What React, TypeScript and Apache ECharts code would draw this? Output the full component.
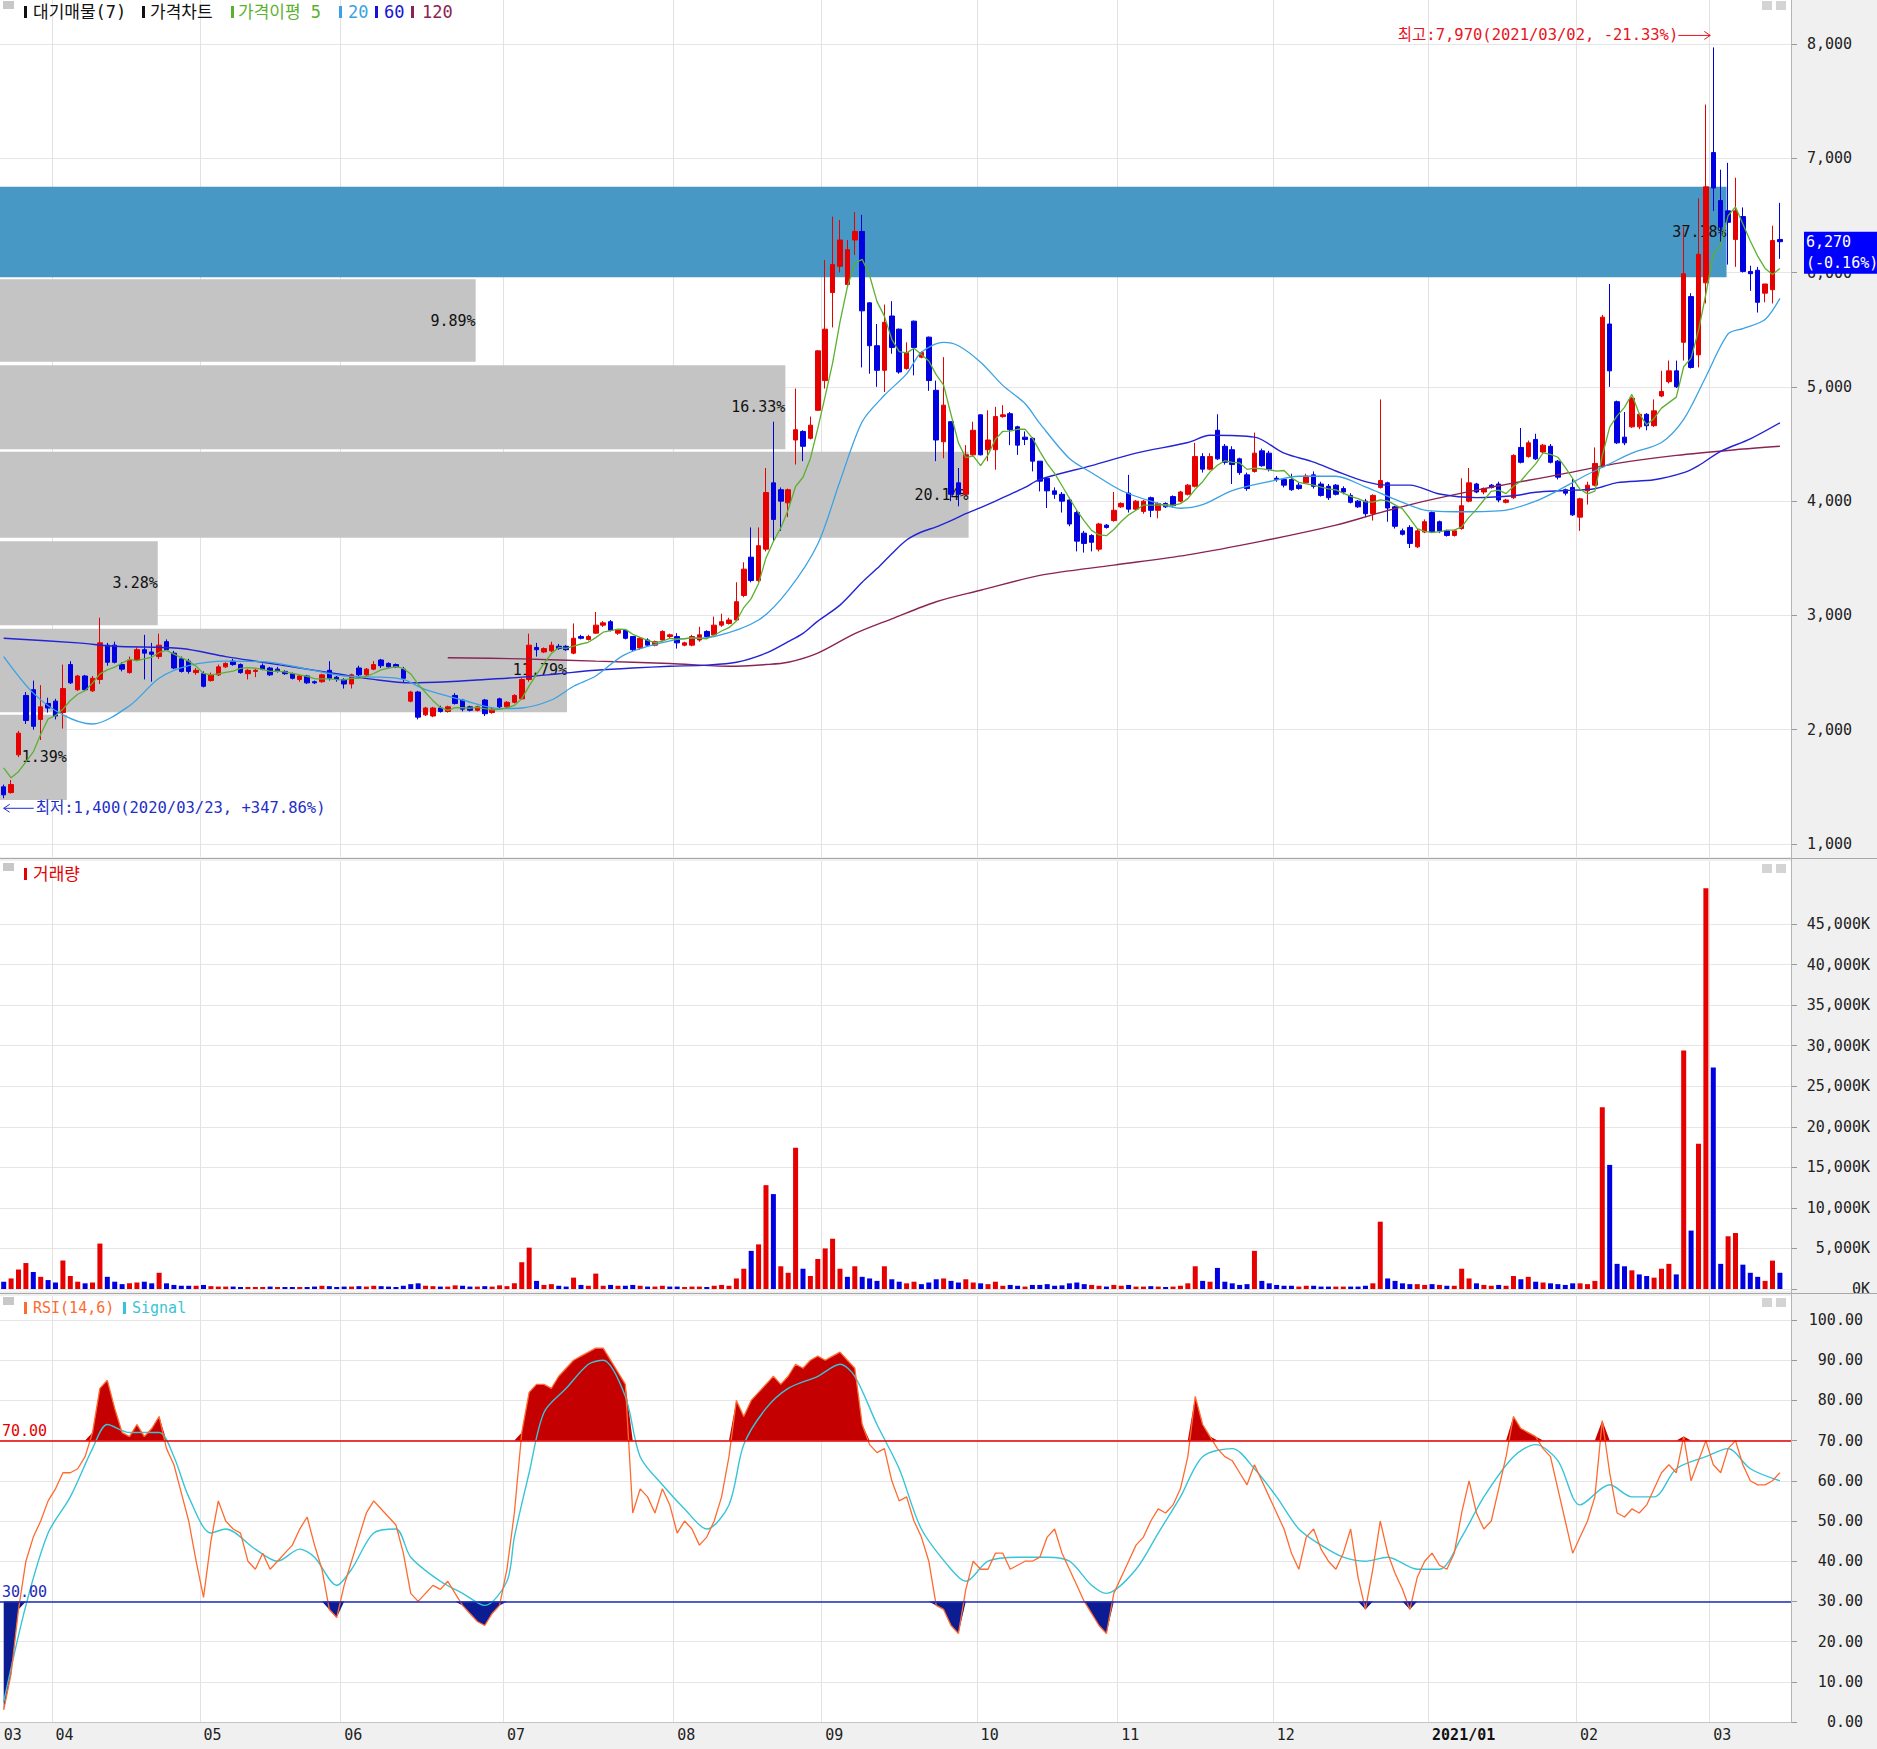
import React, { useEffect, useRef } from "react";
import * as echarts from "echarts";

// ---------------- data ----------------
const monthLabels = ["03", "04", "05", "06", "07", "08", "09", "10", "11", "12", "2021/01", "02", "03"];
const monthDays = [7, 20, 19, 22, 23, 20, 21, 19, 21, 21, 20, 18, 10];

const preCloses = [1955, 1700, 1650, 1595];

const opens = [
  1500, 1450, 1780, 2300, 2350, 2090, 2230,
  2250, 2150, 2570, 2350, 2470, 2340, 2440, 2740, 2740, 2570, 2500, 2610, 2700, 2680, 2640, 2770, 2670, 2620, 2600, 2500,
  2490, 2430, 2480, 2550, 2600, 2570, 2490, 2510, 2560, 2540, 2530, 2510, 2490, 2440, 2470, 2420, 2420, 2520, 2460,
  2440, 2400, 2540, 2480, 2530, 2610, 2580, 2570, 2530, 2250, 2330, 2130, 2120, 2190, 2160, 2300, 2260, 2200, 2170, 2260, 2150, 2270,
  2200, 2240, 2270, 2440, 2720, 2680, 2690, 2730, 2730, 2670, 2815, 2790, 2845, 2915, 2945, 2845, 2870, 2815, 2715, 2785, 2740, 2785, 2815,
  2815, 2740, 2740, 2785, 2860, 2830, 2915, 2930, 2960, 3175, 3510, 3305, 3580, 4160, 4100, 3985, 4535, 4610, 4550, 4795,
  5055, 5825, 6055, 5895, 6285, 6360, 5735, 5360, 5145, 5620, 5505, 5160, 5575, 5260, 5435, 4970, 4520, 4695, 4160, 4060, 4405,
  4755, 4450, 4450, 4740, 4765, 4650, 4560, 4550, 4350, 4200, 4090, 4060, 4010, 3900, 3720, 3700, 3580, 3790, 3830,
  3950, 4070, 3930, 3910, 4030, 3920, 3980, 4040, 4000, 4060, 4130, 4390, 4280, 4620, 4480, 4450, 4370, 4230, 4260, 4440, 4420,
  4200, 4190, 4190, 4140, 4160, 4230, 4150, 4130, 4140, 4110, 4050, 4000, 4000, 3890, 4120, 4160, 3950, 3740, 3770, 3600, 3730,
  3900, 3820, 3740, 3700, 3760, 4000, 4150, 4080, 4140, 4150, 3990, 4030, 4470, 4390, 4540, 4430, 4480, 4350, 4100, 4120,
  3860, 4090, 4140, 4300, 5550, 4870, 4560, 4650, 4650, 4760, 4660, 4920, 5045, 5140, 5390, 5790, 5280, 5910,
  7050, 6630, 6540, 6290, 6490, 6010, 6020, 5820, 5850, 6290,
];
const highs = [
  1520, 1560, 1990, 2330, 2430, 2390, 2280,
  2270, 2570, 2600, 2480, 2480, 2470, 2980, 2760, 2770, 2590, 2640, 2720, 2830, 2760, 2840, 2790, 2690, 2640, 2620, 2540,
  2510, 2500, 2570, 2590, 2620, 2580, 2530, 2530, 2580, 2550, 2550, 2520, 2500, 2480, 2480, 2430, 2490, 2600, 2470,
  2450, 2490, 2560, 2540, 2600, 2620, 2590, 2580, 2550, 2340, 2340, 2200, 2200, 2210, 2210, 2320, 2270, 2210, 2210, 2270, 2190, 2280,
  2250, 2310, 2450, 2840, 2760, 2720, 2770, 2750, 2740, 2930, 2830, 2830, 3030, 2950, 2960, 2880, 2880, 2820, 2810, 2800, 2780, 2870, 2840,
  2845, 2770, 2830, 2900, 2870, 2990, 3015, 2980, 3290, 3465, 3770, 3770, 4290, 4695, 4120, 4110, 4985, 4620, 4740, 5320,
  6110, 6490, 6460, 6285, 6530, 6505, 5740, 5550, 5720, 5750, 5510, 5390, 5580, 5310, 5440, 5055, 5260, 4700, 4290, 4490, 4695,
  4760, 4795, 4825, 4840, 4780, 4660, 4610, 4560, 4350, 4210, 4120, 4080, 4030, 3920, 3740, 3710, 3810, 3800, 4080,
  3990, 4230, 4010, 4010, 4040, 3990, 3990, 4050, 4090, 4150, 4510, 4420, 4420, 4760, 4500, 4480, 4380, 4250, 4600, 4460, 4440,
  4220, 4200, 4240, 4160, 4240, 4260, 4170, 4150, 4150, 4130, 4070, 4010, 4020, 4060, 4890, 4170, 3960, 3760, 3790, 3760, 3840,
  3910, 3830, 3750, 3750, 4200, 4290, 4160, 4120, 4150, 4170, 4020, 4410, 4640, 4530, 4590, 4500, 4500, 4360, 4110, 4200,
  4030, 4170, 4470, 5630, 5900, 4880, 4780, 4910, 4770, 4770, 4890, 5140, 5230, 5230, 6400, 5820, 6650, 7470,
  7970, 6900, 6960, 6830, 6570, 6060, 6050, 5900, 6410, 6610,
];
const lows = [
  1400, 1440, 1760, 2050, 2000, 1910, 2150,
  2090, 2010, 2400, 2340, 2340, 2330, 2400, 2560, 2580, 2510, 2490, 2600, 2440, 2420, 2620, 2690, 2530, 2500, 2490, 2480,
  2370, 2420, 2470, 2540, 2560, 2490, 2440, 2460, 2520, 2470, 2500, 2480, 2440, 2420, 2400, 2400, 2410, 2430, 2420,
  2360, 2360, 2470, 2470, 2520, 2540, 2540, 2540, 2410, 2240, 2090, 2120, 2110, 2150, 2150, 2220, 2160, 2160, 2160, 2120, 2140, 2190,
  2190, 2230, 2260, 2420, 2640, 2670, 2680, 2700, 2690, 2660, 2790, 2780, 2840, 2900, 2860, 2830, 2790, 2690, 2700, 2730, 2730, 2780, 2800,
  2710, 2730, 2730, 2770, 2800, 2820, 2900, 2920, 2950, 3160, 3290, 3290, 3560, 3650, 3740, 3860, 4320, 4350, 4540, 4790,
  4985, 5520, 6000, 5880, 6155, 5170, 5115, 5000, 4955, 5290, 5115, 5150, 5100, 5250, 4965, 4350, 4375, 4000, 3955, 4050, 4390,
  4400, 4350, 4275, 4730, 4490, 4405, 4490, 4260, 4085, 3940, 4020, 3900, 3780, 3560, 3550, 3560, 3560, 3760, 3820,
  3940, 3900, 3920, 3890, 3860, 3850, 3940, 3950, 3990, 4050, 4120, 4250, 4270, 4360, 4320, 4150, 4230, 4090, 4250, 4300, 4260,
  4170, 4120, 4090, 4100, 4150, 4110, 4040, 4010, 4050, 4060, 3980, 3940, 3860, 3830, 4110, 3820, 3760, 3700, 3590, 3590, 3720,
  3720, 3720, 3690, 3690, 3750, 3990, 4070, 4060, 4110, 3990, 3980, 4020, 4330, 4380, 4360, 4420, 4330, 4190, 4050, 3870,
  3740, 3970, 4130, 4290, 5000, 4500, 4490, 4640, 4630, 4620, 4650, 4910, 5030, 4990, 5230, 5160, 5170, 5730,
  6540, 6270, 6070, 6050, 6000, 5840, 5650, 5740, 5730, 6120,
];
const closes = [
  1430, 1520, 1970, 2080, 2030, 2200, 2190,
  2120, 2360, 2410, 2470, 2350, 2450, 2760, 2590, 2590, 2530, 2610, 2700, 2670, 2660, 2740, 2700, 2540, 2510, 2510, 2520,
  2380, 2480, 2550, 2580, 2570, 2500, 2520, 2520, 2530, 2480, 2510, 2490, 2450, 2470, 2410, 2410, 2480, 2450, 2440,
  2400, 2480, 2480, 2530, 2570, 2560, 2550, 2550, 2450, 2330, 2110, 2190, 2190, 2160, 2200, 2230, 2180, 2170, 2200, 2140, 2180, 2200,
  2240, 2300, 2440, 2740, 2700, 2710, 2740, 2710, 2700, 2800, 2800, 2815, 2915, 2935, 2870, 2870, 2800, 2700, 2800, 2740, 2770, 2860, 2830,
  2760, 2760, 2815, 2830, 2815, 2915, 2945, 2960, 3120, 3405, 3305, 3610, 4075, 3840, 4000, 4100, 4625, 4480, 4665, 5315,
  5505, 6070, 6285, 6200, 6360, 5665, 5360, 5145, 5565, 5345, 5130, 5300, 5345, 5300, 5055, 4535, 4840, 4060, 4060, 4405, 4620,
  4405, 4535, 4740, 4755, 4625, 4490, 4540, 4350, 4175, 4090, 4060, 4000, 3800, 3650, 3630, 3640, 3800, 3770, 3920,
  3980, 3930, 4000, 4000, 3920, 3980, 3950, 3960, 4080, 4140, 4390, 4280, 4390, 4370, 4340, 4320, 4250, 4110, 4420, 4310, 4280,
  4190, 4140, 4100, 4110, 4220, 4130, 4050, 4030, 4060, 4080, 3990, 3950, 3890, 4050, 4180, 3940, 3780, 3710, 3630, 3740, 3820,
  3730, 3740, 3700, 3740, 3960, 4160, 4080, 4110, 4120, 4010, 4010, 4400, 4340, 4510, 4370, 4490, 4340, 4210, 4070, 3880,
  4020, 4140, 4330, 5610, 5140, 4510, 4510, 4900, 4760, 4660, 4790, 4960, 5140, 5000, 5990, 5170, 6160, 6750,
  6740, 6400, 6440, 6540, 6010, 5990, 5740, 5900, 6280, 6270,
];

// volume, thousands of shares
const volumesK = [
  900, 1300, 2400, 3200, 2100, 1500, 1100,
  800, 3500, 1600, 900, 700, 800, 5600, 1500, 900, 600, 700, 800, 900, 700, 2000, 700, 500, 400, 400, 400,
  500, 350, 300, 300, 300, 250, 250, 250, 250, 300, 250, 250, 250, 250, 250, 300, 400, 350, 250,
  300, 300, 350, 300, 400, 350, 300, 250, 400, 600, 700, 400, 350, 300, 300, 450, 400, 300, 300, 350, 300, 450,
  350, 700, 3300, 5100, 1000, 500, 600, 400, 300, 1400, 500, 400, 1900, 400, 500, 400, 400, 500, 400, 300, 300, 400, 300,
  300, 250, 300, 300, 250, 400, 500, 400, 1300, 2500, 4700, 5500, 12800, 11700, 2800, 2000, 17400, 2500, 1600, 3700,
  5000, 6200, 2500, 1500, 2800, 1500, 1300, 1000, 2800, 1200, 900, 700, 900, 600, 800, 1200, 1300, 1000, 800, 1200, 800,
  700, 600, 900, 400, 500, 400, 300, 500, 500, 600, 400, 450, 700, 800, 600, 500, 400, 300, 500,
  400, 500, 300, 300, 350, 300, 250, 300, 400, 700, 2800, 1000, 900, 2600, 900, 700, 500, 600, 4700, 1000, 700,
  500, 400, 400, 300, 400, 400, 300, 300, 300, 300, 300, 300, 400, 700, 8300, 1300, 1000, 700, 600, 600, 500,
  600, 500, 400, 400, 2500, 1300, 700, 500, 400, 500, 400, 1600, 1200, 1500, 900, 800, 700, 600, 500, 700,
  700, 600, 1000, 22400, 15300, 3100, 2800, 2300, 1800, 1600, 1400, 2500, 3100, 1800, 29400, 7200, 17900, 49400,
  27300, 3100, 6500, 6900, 3000, 2000, 1500, 1000, 3500, 2000,
];

const rsiValues = [
  3, 12, 28, 40, 46, 50, 55, 58, 62, 62,
  63, 66, 72, 83, 85, 78, 72, 71, 74, 71,
  73, 76, 68, 64, 57, 50, 40, 31, 45, 55,
  50, 48, 47, 40, 38, 42, 38, 40, 42, 44,
  48, 51, 44, 38, 28, 26, 34, 40, 46, 52,
  55, 53, 51, 49, 42, 32, 30, 32, 34, 33,
  35, 32, 29, 27, 25, 24, 27, 29, 38, 52,
  72, 82, 84, 84, 83, 86, 88, 90, 91, 92,
  93, 93, 90, 87, 84, 52, 58, 56, 52, 58,
  54, 47, 50, 48, 44, 46, 50, 56, 66, 80,
  76, 80, 82, 84, 86, 84, 86, 89, 88, 90,
  91, 90, 91, 92, 90, 88, 74, 69, 67, 68,
  60, 55, 56, 50, 46, 40, 29, 28, 24, 22,
  33, 40, 38, 38, 42, 42, 38, 39, 40, 40,
  41, 46, 48, 42, 38, 34, 30, 27, 24, 22,
  32, 36, 40, 44, 46, 50, 53, 52, 54, 58,
  66, 81, 74, 71, 68, 66, 65, 62, 59, 64,
  60, 56, 52, 48, 42, 38, 46, 48, 43, 40,
  38, 42, 48, 36, 28, 38, 50, 42, 37, 33,
  28, 36, 40, 42, 39, 38, 42, 52, 60, 52,
  48, 50, 58, 66, 76, 73, 72, 71, 68, 66,
  58, 50, 42, 46, 50, 56, 75, 62, 52, 51,
  53, 52, 54, 58, 62, 64, 62, 71, 60, 65,
  70, 64, 62, 68, 70, 64, 60, 59, 59, 60, 62,
];

// [trading-day index, value] readings
const signalPoints = [
  [0, 5], [3, 29], [6, 47], [9, 56], [12, 68], [14, 74], [17, 72], [21, 72], [23, 66], [25, 56], [28, 47], [30, 48],
  [34, 43], [37, 40], [40, 43], [42, 41], [45, 34], [47, 38], [50, 47], [53, 48], [55, 41], [59, 35], [62, 32], [65, 29],
  [68, 35], [69, 46], [71, 62], [73, 77], [76, 83], [79, 89], [81, 90], [84, 81], [86, 66], [89, 59], [92, 53], [95, 48],
  [98, 54], [100, 69], [103, 78], [106, 83], [110, 86], [113, 89], [115, 86], [118, 74], [121, 63], [124, 48], [128, 38],
  [130, 35], [133, 40], [137, 41], [141, 41], [144, 40], [147, 34], [149, 32], [153, 38], [156, 47], [159, 56], [162, 66],
  [166, 68], [169, 63], [172, 56], [175, 48], [178, 44], [181, 41], [184, 40], [187, 41], [191, 38], [194, 38], [197, 46],
  [200, 56], [204, 66], [207, 69], [210, 65], [213, 54], [217, 59], [220, 56], [223, 56], [226, 63], [230, 66], [233, 68],
  [236, 63], [240, 60],
];
const ma20Points = [
  [0, 2640], [4, 2320], [8, 2130], [12, 2050], [17, 2210], [21, 2450], [25, 2560], [30, 2600], [36, 2590], [41, 2530],
  [46, 2470], [51, 2460], [54, 2440], [57, 2350], [62, 2260], [67, 2185], [70, 2190], [74, 2260], [77, 2380], [80, 2470],
  [84, 2660], [91, 2790], [96, 2815], [102, 2960], [106, 3220], [110, 3625], [113, 4174], [116, 4695], [119, 4926],
  [122, 5114], [124, 5302], [127, 5389], [129, 5360], [132, 5216], [135, 5013], [138, 4854], [140, 4680], [144, 4373],
  [147, 4249], [151, 4093], [155, 4000], [159, 3938], [162, 3969], [166, 4093], [171, 4171], [175, 4218], [180, 4218],
  [184, 4124], [188, 4016], [192, 3922], [197, 3907], [203, 3922], [207, 4000], [210, 4093], [214, 4233], [217, 4327],
  [220, 4420], [224, 4513], [227, 4716], [230, 5089], [233, 5463], [235, 5510], [238, 5590], [240, 5774],
];
const ma60Points = [
  [0, 2800], [10, 2760], [15, 2730], [24, 2710], [30, 2640], [35, 2590], [40, 2540], [45, 2490], [50, 2440], [55, 2410],
  [60, 2420], [65, 2440], [70, 2460], [75, 2490], [80, 2520], [85, 2540], [90, 2555], [95, 2565], [99, 2590], [103, 2670],
  [106, 2770], [108, 2843], [110, 2950], [113, 3090], [116, 3290], [118, 3410], [120, 3540], [122, 3660], [124, 3730],
  [126, 3775], [128, 3830], [130, 3890], [132, 3943], [134, 4000], [136, 4060], [138, 4120], [140, 4190], [147, 4311],
  [153, 4420], [160, 4513], [163, 4576], [169, 4560], [173, 4420], [177, 4342], [180, 4264], [184, 4171], [187, 4140],
  [190, 4140], [194, 4062], [199, 4031], [204, 4047], [207, 4078], [211, 4093], [215, 4109], [218, 4162], [223, 4187],
  [227, 4249], [229, 4311], [232, 4436], [236, 4545], [240, 4685],
];
const ma120Points = [
  [60, 2630], [70, 2620], [80, 2600], [90, 2580], [98, 2555], [103, 2570], [106, 2590], [110, 2670], [115, 2840],
  [120, 2970], [126, 3120], [132, 3220], [140, 3350], [150, 3440], [160, 3530], [170, 3650], [180, 3790], [186, 3900],
  [192, 4000], [200, 4110], [210, 4230], [218, 4330], [226, 4400], [234, 4450], [240, 4480],
];

// supply zones (대기매물): price range and share of volume in %
const zoneLows = [1385, 2153, 2915, 3680, 4454, 5220, 5960];
const zoneHighs = [2130, 2884, 3650, 4433, 5189, 5941, 6750];
const zonePcts = [1.39, 11.79, 3.28, 20.14, 16.33, 9.89, 37.18];

const highDateText = "2021/03/02";
const lowDateText = "2020/03/23";

// ---------------- styling ----------------
const W = 1877;
const H = 1749;
const PLOT_W = 1791;
const MONO = '"DejaVu Sans Mono", "Noto Sans CJK KR", monospace';
const UP = "#e60000";
const DOWN = "#0000e0";
const GRID_LINE = "#e6e6e6";
const RSI_HIGH = 70;
const RSI_LOW = 30;
const ZONE_AXIS_MAX = 37.24;
const ZONE_DRAW_CAP = 35.9;

export default function App() {
  const ref = useRef<HTMLDivElement>(null);

  useEffect(() => {
    const el = ref.current;
    if (!el) return;
    const chart = echarts.init(el, null, { renderer: "svg", width: W, height: H });

    const n = closes.length;
    const cats = Array.from({ length: n + 1 }, (_, i) => String(i));
    const startLabel = new Map<number, string>();
    let acc = 0;
    monthDays.forEach((d, k) => {
      startLabel.set(acc, monthLabels[k]);
      acc += d;
    });

    const candles = closes.map((c, i) => [opens[i], c, lows[i], highs[i]]);
    const allCloses = [...preCloses, ...closes];
    const ma5 = closes.map((_, i) => {
      const s = allCloses.slice(i, i + 5);
      return Math.round(s.reduce((a, b) => a + b, 0) / 5);
    });
    const volData = volumesK.map((v, i) => {
      const prev = i === 0 ? preCloses[preCloses.length - 1] : closes[i - 1];
      const up = closes[i] > prev || (closes[i] === prev && closes[i] >= opens[i]);
      return { value: v, itemStyle: { color: up ? UP : DOWN } };
    });
    const hiBase = rsiValues.map(() => RSI_HIGH);
    const hiDelta = rsiValues.map((v) => Math.max(v - RSI_HIGH, 0));
    const loBase = rsiValues.map((v) => Math.min(v, RSI_LOW));
    const loDelta = rsiValues.map((v) => RSI_LOW - Math.min(v, RSI_LOW));
    const lastClose = closes[n - 1];
    const zoneData = zonePcts.map((p, i) => [p, zoneLows[i], zoneHighs[i]]);

    const bgX = (gridIndex: number, labels: boolean) => ({
      gridIndex,
      type: "category",
      data: cats,
      boundaryGap: true,
      position: "bottom",
      axisLine: { show: false },
      axisTick: { show: false },
      axisLabel: labels
        ? {
            show: true,
            interval: (i: number) => startLabel.has(i),
            formatter: (_v: string, i: number) => {
              const l = startLabel.get(i);
              if (!l) return "";
              return l.includes("/") ? `{b|${l}}` : l;
            },
            align: "left",
            margin: 5,
            color: "#222",
            fontFamily: MONO,
            fontSize: 15,
            rich: { b: { fontWeight: "bold", color: "#111", fontFamily: MONO, fontSize: 15 } },
          }
        : { show: false },
      splitLine: {
        show: true,
        interval: (i: number) => startLabel.has(i) && i > 0,
        lineStyle: { color: "#e2e2e2", width: 1 },
      },
    });
    const hiddenX = (gridIndex: number) => ({
      gridIndex,
      type: "category",
      data: cats,
      boundaryGap: true,
      show: false,
    });
    const hiddenY = (gridIndex: number) => ({ gridIndex, type: "value", show: false, min: 0, max: 1 });
    const tick = { show: true, length: 6, lineStyle: { color: "#999" } };

    const gridBase = { left: 0, width: PLOT_W, containLabel: false, outerBoundsMode: "none" };

    const option: any = {
      animation: false,
      backgroundColor: "#f0f0f0",
      grid: [
        { ...gridBase, top: 0, height: 857 },
        { ...gridBase, top: 44, height: 800 },
        { ...gridBase, top: 861, height: 430 },
        { ...gridBase, top: 924, height: 365 },
        { ...gridBase, top: 1296, height: 426 },
        { ...gridBase, top: 1320, height: 402 },
        { ...gridBase, top: 44, height: 800 },
      ],
      xAxis: [
        bgX(0, false),
        hiddenX(1),
        bgX(2, false),
        hiddenX(3),
        bgX(4, true),
        hiddenX(5),
        { gridIndex: 6, type: "value", min: 0, max: ZONE_AXIS_MAX, show: false },
      ],
      yAxis: [
        hiddenY(0),
        {
          gridIndex: 1,
          type: "value",
          position: "right",
          min: 1000,
          max: 8000,
          interval: 1000,
          axisLine: { show: false },
          axisTick: tick,
          axisLabel: {
            margin: 16,
            color: "#222",
            fontFamily: MONO,
            fontSize: 15,
            formatter: (v: number) => v.toLocaleString("en-US"),
          },
          splitLine: { show: true, lineStyle: { color: GRID_LINE } },
        },
        hiddenY(2),
        {
          gridIndex: 3,
          type: "value",
          position: "right",
          min: 0,
          max: 45000,
          interval: 5000,
          axisLine: { show: false },
          axisTick: tick,
          axisLabel: {
            margin: 79,
            align: "right",
            color: "#222",
            fontFamily: MONO,
            fontSize: 15,
            formatter: (v: number) => v.toLocaleString("en-US") + "K",
          },
          splitLine: { show: true, lineStyle: { color: GRID_LINE } },
        },
        hiddenY(4),
        {
          gridIndex: 5,
          type: "value",
          position: "right",
          min: 0,
          max: 100,
          interval: 10,
          axisLine: { show: false },
          axisTick: tick,
          axisLabel: {
            margin: 72,
            align: "right",
            color: "#222",
            fontFamily: MONO,
            fontSize: 15,
            formatter: (v: number) => v.toFixed(2),
          },
          splitLine: { show: true, lineStyle: { color: GRID_LINE } },
        },
        { gridIndex: 6, type: "value", min: 1000, max: 8000, show: false },
      ],
      series: [
        {
          name: "대기매물",
          type: "custom",
          coordinateSystem: "cartesian2d",
          xAxisIndex: 6,
          yAxisIndex: 6,
          z: 1,
          silent: true,
          encode: { x: 0, y: [1, 2] },
          data: zoneData,
          renderItem: (_params: any, api: any) => {
            const pct = api.value(0);
            const lo = api.value(1);
            const hi = api.value(2);
            const w = Math.min(pct, ZONE_DRAW_CAP);
            const p0 = api.coord([0, hi]);
            const p1 = api.coord([w, lo]);
            const active = lo <= lastClose && lastClose <= hi;
            return {
              type: "group",
              children: [
                {
                  type: "rect",
                  shape: { x: p0[0], y: p0[1], width: p1[0] - p0[0], height: p1[1] - p0[1] },
                  style: { fill: active ? "#4898c6" : "#c4c4c4" },
                },
                {
                  type: "text",
                  style: {
                    text: pct.toFixed(2) + "%",
                    x: p1[0],
                    y: (p0[1] + p1[1]) / 2,
                    align: "right",
                    textAlign: "right",
                    verticalAlign: "middle",
                    textVerticalAlign: "middle",
                    fill: "#111",
                    font: `15px ${MONO}`,
                  },
                },
              ],
            };
          },
        },
        {
          name: "가격차트",
          type: "candlestick",
          xAxisIndex: 1,
          yAxisIndex: 1,
          z: 3,
          barWidth: 5,
          data: candles,
          itemStyle: { color: UP, color0: DOWN, borderColor: UP, borderColor0: DOWN, borderWidth: 1 },
        },
        {
          name: "120",
          type: "line",
          xAxisIndex: 1,
          yAxisIndex: 1,
          z: 4,
          data: ma120Points,
          smooth: 0.3,
          symbol: "none",
          lineStyle: { color: "#8a2453", width: 1.4 },
        },
        {
          name: "60",
          type: "line",
          xAxisIndex: 1,
          yAxisIndex: 1,
          z: 4,
          data: ma60Points,
          smooth: 0.3,
          symbol: "none",
          lineStyle: { color: "#2323d6", width: 1.4 },
        },
        {
          name: "20",
          type: "line",
          xAxisIndex: 1,
          yAxisIndex: 1,
          z: 4,
          data: ma20Points,
          smooth: 0.3,
          symbol: "none",
          lineStyle: { color: "#3aa2e4", width: 1.3 },
        },
        {
          name: "가격이평 5",
          type: "line",
          xAxisIndex: 1,
          yAxisIndex: 1,
          z: 4,
          data: ma5,
          symbol: "none",
          lineStyle: { color: "#5cb030", width: 1.3 },
        },
        {
          name: "거래량",
          type: "bar",
          xAxisIndex: 3,
          yAxisIndex: 3,
          barWidth: 5,
          clip: false,
          data: volData,
        },
        {
          name: "hiBase",
          type: "line",
          xAxisIndex: 5,
          yAxisIndex: 5,
          stack: "hi",
          data: hiBase,
          symbol: "none",
          lineStyle: { opacity: 0 },
          z: 2,
          silent: true,
        },
        {
          name: "hiFill",
          type: "line",
          xAxisIndex: 5,
          yAxisIndex: 5,
          stack: "hi",
          data: hiDelta,
          symbol: "none",
          lineStyle: { opacity: 0 },
          areaStyle: { color: "#c40000", opacity: 1 },
          z: 2,
          silent: true,
        },
        {
          name: "loBase",
          type: "line",
          xAxisIndex: 5,
          yAxisIndex: 5,
          stack: "lo",
          data: loBase,
          symbol: "none",
          lineStyle: { opacity: 0 },
          z: 2,
          silent: true,
        },
        {
          name: "loFill",
          type: "line",
          xAxisIndex: 5,
          yAxisIndex: 5,
          stack: "lo",
          data: loDelta,
          symbol: "none",
          lineStyle: { opacity: 0 },
          areaStyle: { color: "#0c1c92", opacity: 1 },
          z: 2,
          silent: true,
        },
        {
          name: "Signal",
          type: "line",
          xAxisIndex: 5,
          yAxisIndex: 5,
          z: 3,
          data: signalPoints,
          smooth: 0.3,
          symbol: "none",
          lineStyle: { color: "#38c4d8", width: 1.4 },
          markLine: {
            silent: true,
            symbol: "none",
            data: [
              {
                yAxis: RSI_HIGH,
                lineStyle: { color: "#e60000", width: 1.5, type: "solid" },
                label: {
                  show: true,
                  position: "insideStartTop",
                  formatter: RSI_HIGH.toFixed(2),
                  color: "#e60000",
                  fontFamily: MONO,
                  fontSize: 15,
                  distance: 2,
                },
              },
              {
                yAxis: RSI_LOW,
                lineStyle: { color: "#1c2cb8", width: 1.5, type: "solid" },
                label: {
                  show: true,
                  position: "insideStartTop",
                  formatter: RSI_LOW.toFixed(2),
                  color: "#1c2cb8",
                  fontFamily: MONO,
                  fontSize: 15,
                  distance: 2,
                },
              },
            ],
          },
        },
        {
          name: "RSI(14,6)",
          type: "line",
          xAxisIndex: 5,
          yAxisIndex: 5,
          z: 3,
          data: rsiValues,
          symbol: "none",
          lineStyle: { color: "#ff6a30", width: 1.3 },
        },
      ],
    };

    chart.setOption(option);

    // --- graphic overlays ---
    const rect = (x: number, y: number, w: number, h: number, fill: string, z = 100) => ({
      type: "rect",
      shape: { x, y, width: w, height: h },
      style: { fill },
      z,
      silent: true,
    });
    const text = (x: number, y: number, t: string, fill: string, size = 17, align = "left") => ({
      type: "text",
      x,
      y,
      style: {
        text: t,
        fill,
        font: `${size}px ${MONO}`,
        align,
        textAlign: align,
        verticalAlign: "middle",
        textVerticalAlign: "middle",
      },
      z: 100,
      silent: true,
    });
    const line = (x1: number, y1: number, x2: number, y2: number, stroke: string, lw = 1, z = 100) => ({
      type: "line",
      shape: { x1, y1, x2, y2 },
      style: { stroke, lineWidth: lw },
      z,
      silent: true,
    });

    const px = (i: number, p: number) => chart.convertToPixel({ xAxisIndex: 1, yAxisIndex: 1 }, [i, p]) as number[];

    let hiIdx = 0;
    let loIdx = 0;
    highs.forEach((h, i) => {
      if (h > highs[hiIdx]) hiIdx = i;
    });
    lows.forEach((l, i) => {
      if (l < lows[loIdx]) loIdx = i;
    });
    const hiVal = highs[hiIdx];
    const loVal = lows[loIdx];
    const hiPct = ((lastClose - hiVal) / hiVal) * 100;
    const loPct = ((lastClose - loVal) / loVal) * 100;
    const hp = px(hiIdx, hiVal);
    const lp = px(loIdx, loVal);
    const tipX = hp[0] - 3;
    const hy = hp[1] - 12;
    const ly = lp[1] + 10;
    const lastPx = px(n - 1, lastClose);
    const prevClose = closes[n - 2];
    const chg = ((lastClose - prevClose) / prevClose) * 100;

    const g: any[] = [
      // panel backgrounds
      rect(0, 0, PLOT_W, 857, "#ffffff", -10),
      rect(0, 861, PLOT_W, 430, "#ffffff", -10),
      rect(0, 1296, PLOT_W, 426, "#ffffff", -10),
      line(0, 858.5, W, 858.5, "#a8a8a8", 1),
      line(0, 1293.5, W, 1293.5, "#a8a8a8", 1),
      line(0, 1722.5, PLOT_W + 1, 1722.5, "#c4c4c4", 1),
      line(PLOT_W + 0.5, 0, PLOT_W + 0.5, 1723, "#b4b4b4", 1),
      // panel icons
      rect(3, 1, 11, 8, "#c8c8c8"),
      rect(3, 863, 11, 8, "#c8c8c8"),
      rect(3, 1297, 11, 8, "#c8c8c8"),
      rect(1762, 1, 10, 9, "#d4d4d4"),
      rect(1776, 1, 10, 9, "#d4d4d4"),
      rect(1762, 864, 10, 9, "#d4d4d4"),
      rect(1776, 864, 10, 9, "#d4d4d4"),
      rect(1762, 1298, 10, 9, "#d4d4d4"),
      rect(1776, 1298, 10, 9, "#d4d4d4"),
      // main legend
      rect(24, 6, 3, 12, "#111111"),
      text(33, 12, "대기매물(7)", "#111111"),
      rect(142, 6, 3, 12, "#111111"),
      text(150, 12, "가격차트", "#111111"),
      rect(231, 6, 3, 12, "#5cb030"),
      text(238, 12, "가격이평 5", "#5cb030"),
      rect(339, 6, 3, 12, "#3aa2e4"),
      text(348, 12, "20", "#3aa2e4"),
      rect(375, 6, 3, 12, "#1414d4"),
      text(384, 12, "60", "#1414d4"),
      rect(411, 6, 3, 12, "#8a2453"),
      text(422, 12, "120", "#8a2453"),
      // volume legend
      rect(24, 868, 3, 12, "#e60000"),
      text(33, 874, "거래량", "#e60000"),
      // RSI legend
      rect(24, 1302, 3, 12, "#ff6a30"),
      text(33, 1308, "RSI(14,6)", "#ff6a30", 15),
      rect(123, 1302, 3, 12, "#38c4d8"),
      text(132, 1308, "Signal", "#38c4d8", 15),
      // highest / lowest annotations
      text(
        tipX - 32,
        hy,
        `최고:${hiVal.toLocaleString("en-US")}(${highDateText}, ${hiPct.toFixed(2)}%)`,
        "#e8141e",
        15.5,
        "right"
      ),
      line(tipX - 32, hy, tipX, hy, "#e8141e", 1),
      { type: "polyline", shape: { points: [[tipX - 6, hy - 4], [tipX, hy], [tipX - 6, hy + 4]] }, style: { stroke: "#e8141e", fill: "none", lineWidth: 1 }, z: 100, silent: true },
      line(lp[0], ly, lp[0] + 30, ly, "#1f2fc8", 1),
      { type: "polyline", shape: { points: [[lp[0] + 6, ly - 4], [lp[0], ly], [lp[0] + 6, ly + 4]] }, style: { stroke: "#1f2fc8", fill: "none", lineWidth: 1 }, z: 100, silent: true },
      text(
        lp[0] + 32,
        ly,
        `최저:${loVal.toLocaleString("en-US")}(${lowDateText}, +${loPct.toFixed(2)}%)`,
        "#1f2fc8",
        15.5
      ),
      // current price tag
      rect(1804, lastPx[1] - 10, W - 1804, 42, "#0000ff", 110),
      { ...text(1806, lastPx[1], lastClose.toLocaleString("en-US"), "#ffffff", 15), z: 111 },
      { ...text(1806, lastPx[1] + 21, `(${chg.toFixed(2)}%)`, "#ffffff", 15), z: 111 },
    ];

    chart.setOption({ graphic: { elements: g } });

    return () => chart.dispose();
  }, []);

  return <div ref={ref} style={{ position: "absolute", left: 0, top: 0, width: W, height: H }} />;
}
